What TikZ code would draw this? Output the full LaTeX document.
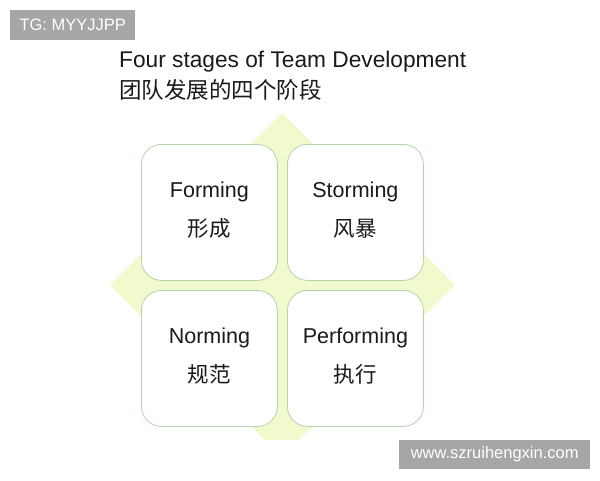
\documentclass[tikz,border=0pt]{standalone}
\usepackage{fontspec}
\setmainfont{Liberation Sans}
\newfontfamily\cjk{Noto Sans CJK SC}
\definecolor{diam}{HTML}{F0FACD}
\definecolor{boxline}{HTML}{B5D2AE}
\definecolor{wm}{HTML}{A6A6A6}
\definecolor{ink}{HTML}{1A1A1A}
\tikzset{
  stagebox/.style={draw=boxline, line width=0.8pt, fill=white, rounded corners=20pt,
    minimum width=136pt, minimum height=136pt, inner sep=0pt, anchor=north west},
  entext/.style={font=\fontsize{21.5}{24}\selectfont, text=ink, inner sep=0pt, anchor=base},
  zhtext/.style={font=\cjk\fontsize{21.5}{24}\selectfont, text=ink, inner sep=0pt, anchor=center},
  wmbox/.style={fill=wm, text=white, inner sep=0pt, anchor=north west}
}
\begin{document}
\begin{tikzpicture}[x=1pt,y=-1pt]
\useasboundingbox (0,0) rectangle (600,480);
\fill[white] (0,0) rectangle (600,480);
% watermark top-left
\node[wmbox, minimum width=125pt, minimum height=30pt, font=\fontsize{16.5}{18}\selectfont] (tg) at (10,10) {TG: MYYJJPP};
% title
\node[anchor=base west, inner sep=0pt, text=ink, font=\fontsize{22.7}{26}\selectfont] (t1) at (119,67) {Four stages of Team Development};
\node[anchor=west, inner sep=0pt, text=ink, font=\cjk\fontsize{22.5}{26}\selectfont] (t2) at (119,89.5) {团队发展的四个阶段};
% diamond
\begin{scope}
\clip (0,0) rectangle (600,439);
\fill[diam] (282,113) -- (455,285) -- (282,457) -- (110,285) -- cycle;
\end{scope}
% boxes
\node[stagebox] (b1) at (141,144) {};
\node[stagebox] (b2) at (287,144) {};
\node[stagebox] (b3) at (141,290) {};
\node[stagebox] (b4) at (287,290) {};
\foreach \b/\en/\zh in {b1/Forming/形成, b2/Storming/风暴, b3/Norming/规范, b4/Performing/执行}{
  \node[entext] (\b en) at ([yshift=-53pt]\b.north) {\en};
  \node[zhtext] (\b zh) at ([yshift=-84.5pt]\b.north) {\zh};
}
% watermark bottom-right
\node[wmbox, minimum width=191pt, minimum height=29pt, font=\fontsize{16.5}{18}\selectfont] (url) at (399,440) {www.szruihengxin.com};
\end{tikzpicture}
\end{document}
